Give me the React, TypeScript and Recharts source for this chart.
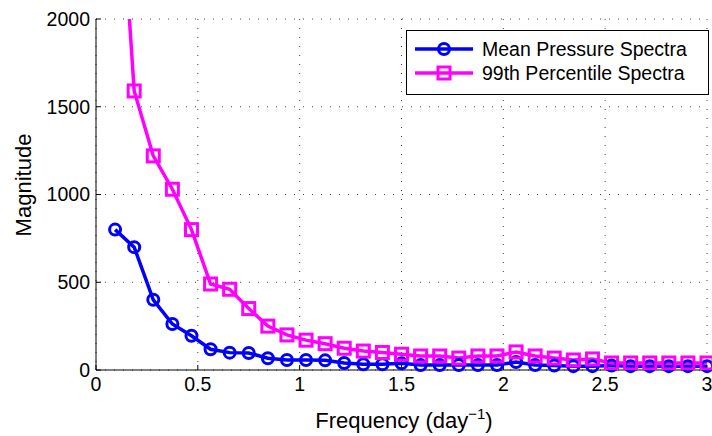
import { LineChart, Line, XAxis, YAxis, CartesianGrid } from 'recharts';

// frequency bins (day^-1)
const freq = [
  0.09375, 0.1875, 0.28125, 0.375, 0.46875, 0.5625, 0.65625, 0.75,
  0.84375, 0.9375, 1.03125, 1.125, 1.21875, 1.3125, 1.40625, 1.5,
  1.59375, 1.6875, 1.78125, 1.875, 1.96875, 2.0625, 2.15625, 2.25,
  2.34375, 2.4375, 2.53125, 2.625, 2.71875, 2.8125, 2.90625, 3,
];

const meanSpectra = [
  800, 700, 400, 262, 195, 118, 99, 97,
  67, 57, 57, 55, 40, 33, 33, 38,
  28, 28, 28, 28, 28, 45, 28, 25,
  22, 22, 25, 22, 22, 22, 22, 22,
];

const p99Spectra = [
  3230, 1590, 1220, 1030, 800, 490, 460, 350,
  250, 200, 170, 150, 124, 108, 100, 90,
  80, 80, 68, 80, 80, 103, 80, 68,
  57, 63, 40, 40, 40, 40, 40, 40,
];

const xTicks = [0, 0.5, 1, 1.5, 2, 2.5, 3];
const yTicks = [0, 500, 1000, 1500, 2000];

const BLUE = '#0000ff';
const MAGENTA = '#ff00ff';
const FONT = '"Liberation Sans", Arial, Helvetica, sans-serif';
const LINE_W = 3.5;
const MARK_W = 3;

const data = freq.map((f, i) => ({ f, mean: meanSpectra[i], p99: p99Spectra[i] }));

const series = [
  { key: 'mean', name: 'Mean Pressure Spectra', color: BLUE, marker: 'circle' },
  { key: 'p99', name: '99th Percentile Spectra', color: MAGENTA, marker: 'square' },
];

function SquareDot(props: any) {
  const { cx, cy, stroke, key } = props;
  if (cx == null || cy == null) return <g key={key} />;
  return (
    <rect key={key} x={cx - 6} y={cy - 6} width={12} height={12}
      fill="none" stroke={stroke} strokeWidth={MARK_W} />
  );
}

function Marker({ type, color }: { type: string; color: string }) {
  return (
    <svg width={58} height={24} style={{ display: 'block' }}>
      <line x1={0} y1={12} x2={58} y2={12} stroke={color} strokeWidth={LINE_W} />
      {type === 'circle'
        ? <circle cx={29} cy={12} r={5.5} fill="none" stroke={color} strokeWidth={MARK_W} />
        : <rect x={23} y={6} width={12} height={12} fill="none" stroke={color} strokeWidth={MARK_W} />}
    </svg>
  );
}

const tickStyle = { fill: '#000', fontSize: 19.5, fontFamily: FONT };

export default function App() {
  return (
    <div style={{ position: 'relative', width: 712, height: 436, background: '#fff' }}>
      <style>{'body{margin:0}'}</style>
      <LineChart width={712} height={436} data={data}
        margin={{ top: 19, right: 5, bottom: 0, left: 0 }}>
        <CartesianGrid xAxisId="bottom" yAxisId="left" stroke="#444" strokeDasharray="1 8" />
        <XAxis xAxisId="bottom" dataKey="f" type="number" domain={[0, 3]} ticks={xTicks}
          height={66} stroke="#000" tickSize={-5} tickMargin={12} tick={tickStyle}
          label={{
            content: () => (
              <text x={404} y={428} textAnchor="middle" fontSize={22} fontFamily={FONT} fill="#000">
                Frequency (day<tspan dy={-9} fontSize={15}>−1</tspan><tspan dy={9}>)</tspan>
              </text>
            ),
          }} />
        <XAxis xAxisId="top" orientation="top" type="number" domain={[0, 3]} ticks={xTicks}
          height={0} stroke="#000" tickSize={-5} tick={false} />
        <YAxis yAxisId="left" type="number" domain={[0, 2000]} ticks={yTicks} allowDataOverflow
          width={96} stroke="#000" tickSize={-5} tickMargin={11} tick={tickStyle}
          label={{
            content: () => (
              <text x={31} y={185} transform="rotate(-90 31 185)" textAnchor="middle"
                fontSize={22} fontFamily={FONT} fill="#000">
                Magnitude
              </text>
            ),
          }} />
        <YAxis yAxisId="right" orientation="right" type="number" domain={[0, 2000]} ticks={yTicks}
          width={0} stroke="#000" tickSize={-5} tick={false} />
        <Line xAxisId="bottom" yAxisId="left" dataKey="mean" name="Mean Pressure Spectra"
          stroke={BLUE} strokeWidth={LINE_W} isAnimationActive={false}
          dot={{ r: 5.5, fill: 'none', stroke: BLUE, strokeWidth: MARK_W, clipDot: false }} />
        <Line xAxisId="bottom" yAxisId="left" dataKey="p99" name="99th Percentile Spectra"
          stroke={MAGENTA} strokeWidth={LINE_W} isAnimationActive={false}
          dot={(p: any) => <SquareDot {...p} key={p.key} />} />
      </LineChart>
      <div style={{
        position: 'absolute', left: 406, top: 30, width: 293, height: 57,
        border: '1px solid #000', background: '#fff', paddingTop: 6, paddingLeft: 8,
        fontFamily: FONT, fontSize: 19.5, color: '#000',
      }}>
        {series.map((s) => (
          <div key={s.key} style={{ display: 'flex', alignItems: 'center', height: 24 }}>
            <Marker type={s.marker} color={s.color} />
            <span style={{ marginLeft: 9, whiteSpace: 'nowrap' }}>{s.name}</span>
          </div>
        ))}
      </div>
    </div>
  );
}
